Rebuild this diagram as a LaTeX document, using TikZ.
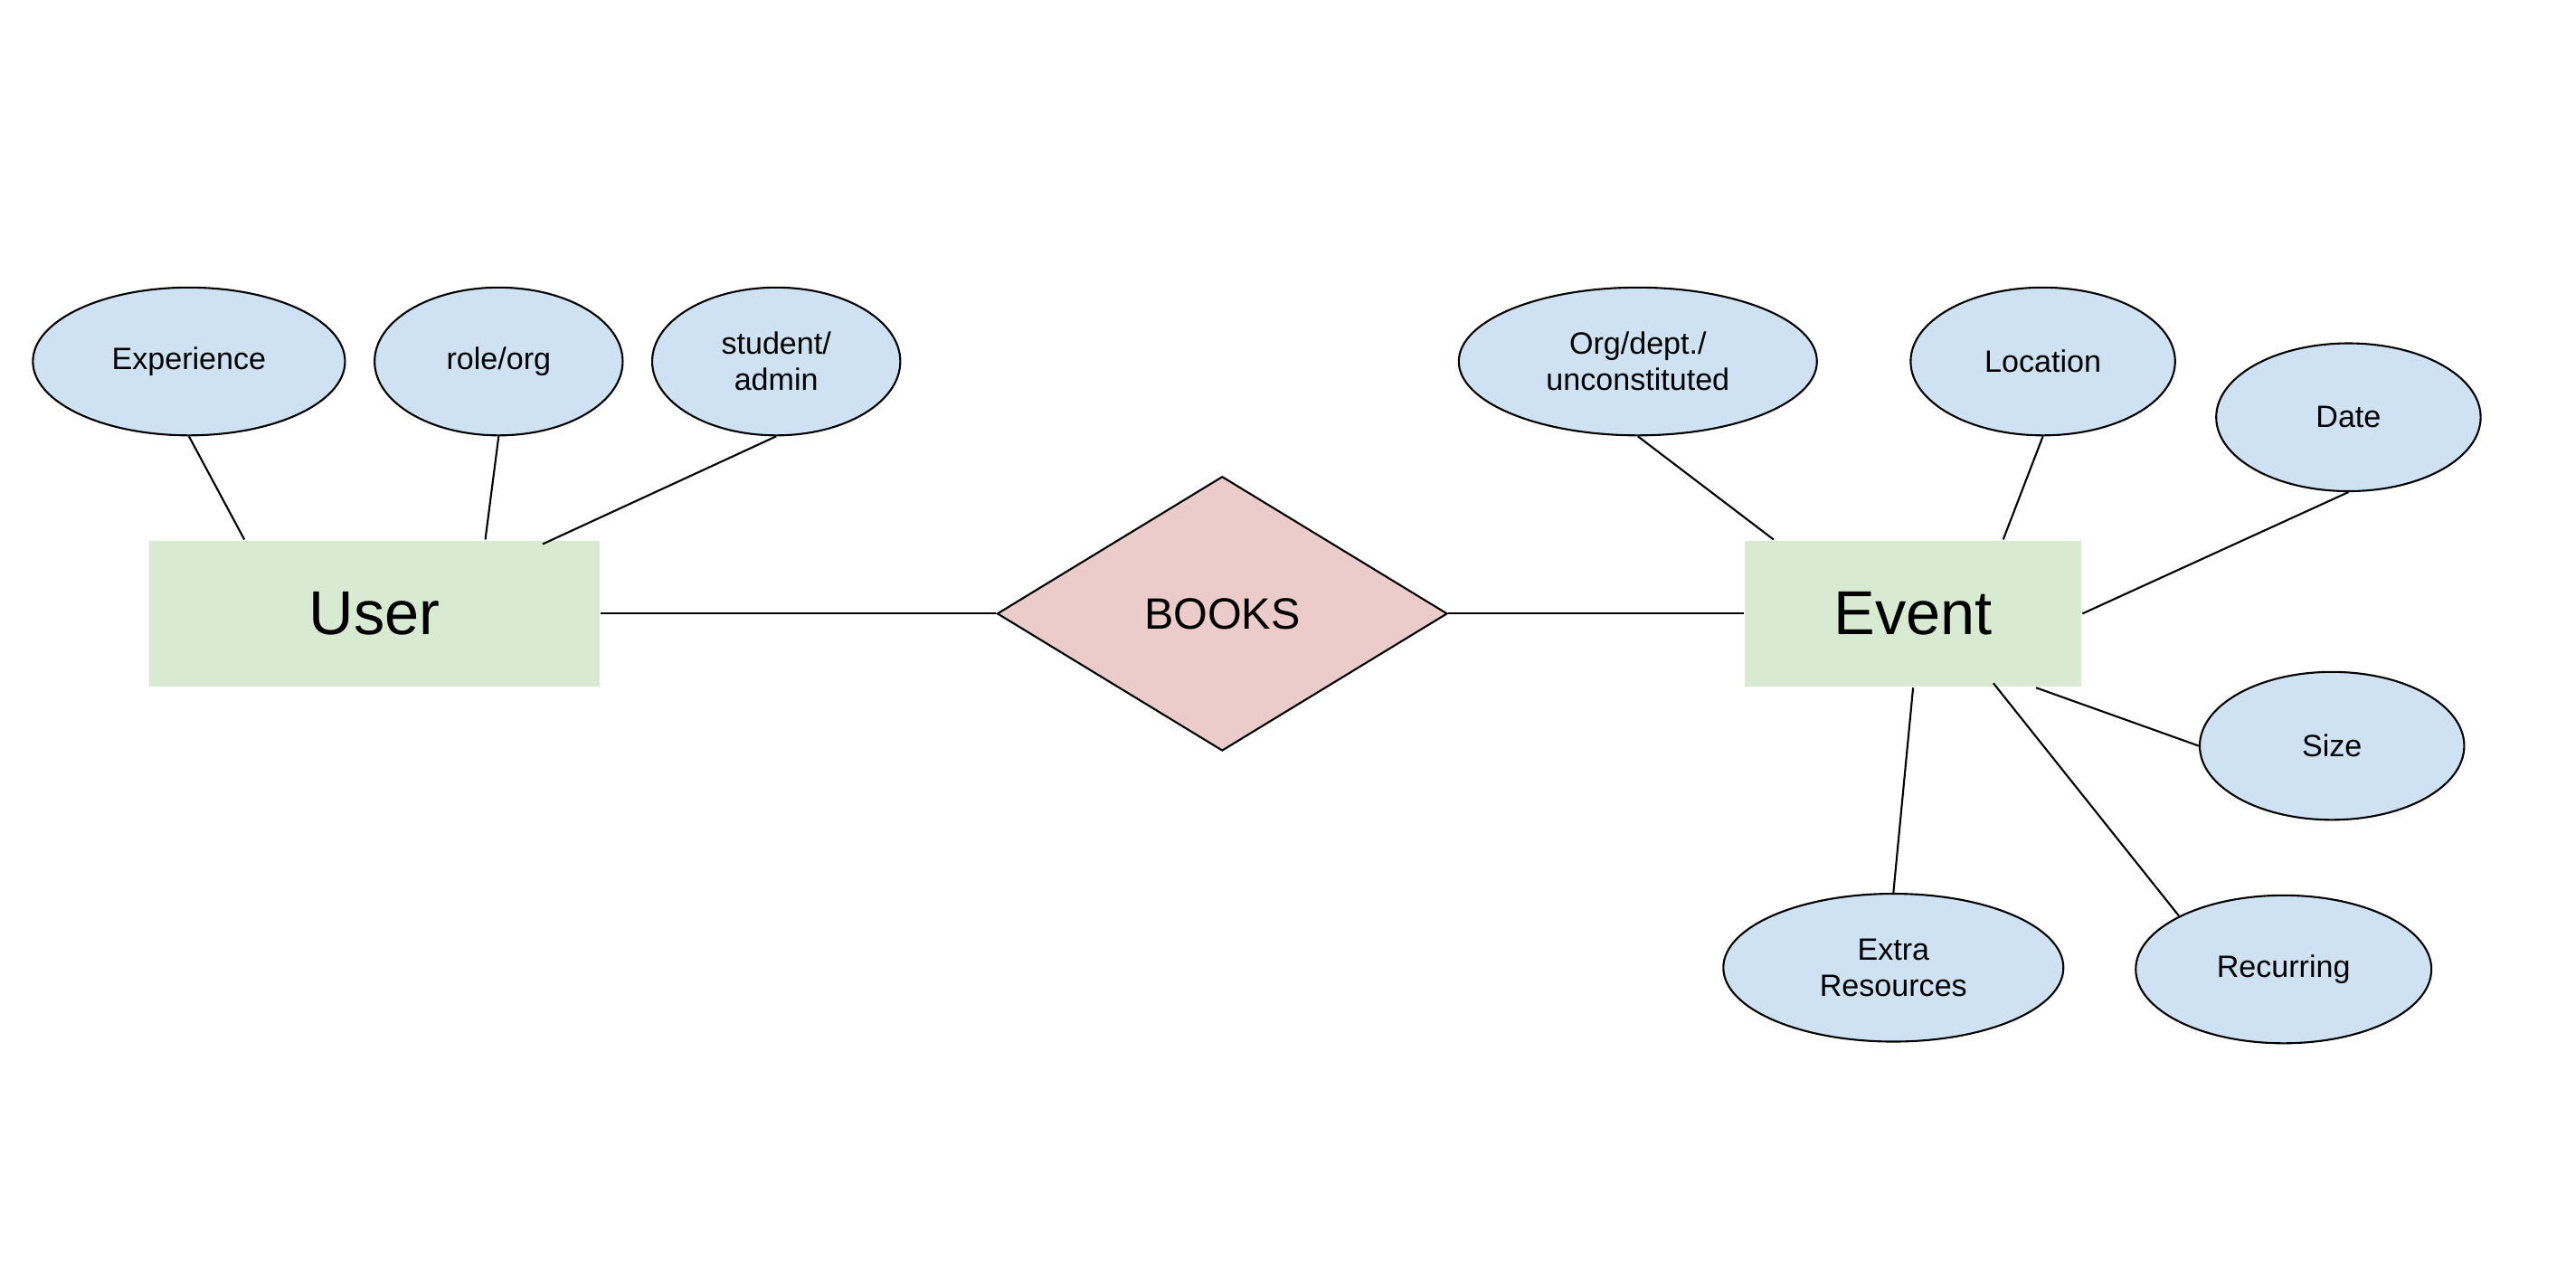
\documentclass[tikz,border=0pt]{standalone}
\usepackage{fontspec}
\setmainfont{Liberation Sans}
\usepackage{tikz}
\usetikzlibrary{calc}
\usetikzlibrary{shapes.geometric}
\definecolor{attrBlue}{HTML}{CFE2F3}
\definecolor{entGreen}{HTML}{D9EAD3}
\definecolor{relPink}{HTML}{EBCCCB}

\begin{document}
\begin{tikzpicture}[line width=0.6pt,
    entity/.style={rectangle,fill=entGreen,inner sep=0pt,minimum width=#1,minimum height=1.617cm,font=\fontsize{19.5}{22}\selectfont},
    attr/.style={ellipse,draw,fill=attrBlue,inner sep=0pt,minimum width=#1,minimum height=1.635cm,align=center,font=\fontsize{9.7}{11.4}\selectfont},
    rel/.style={diamond,draw,fill=relPink,inner sep=0pt,minimum width=4.977cm,minimum height=3.033cm,font=\fontsize{13.8}{16}\selectfont}]
      \useasboundingbox (0,0) rectangle (28.48,14.04);
      \node[entity=4.977cm] (user) at (4.141,7.256) {User} ;
      \node[rel] (books) at (13.513,7.256) {BOOKS} ;
      \node[entity=3.723cm] (event) at (21.151,7.256) {Event} ;
      \node[attr=3.451cm] (experience) at (2.089,10.044) {Experience} ;
      \node[attr=2.743cm] (roleOrg) at (5.513,10.044) {role/org} ;
      \node[attr=2.743cm] (studentAdmin) at (8.582,10.044) {student/\\admin} ;
      \node[attr=3.960cm] (orgDept) at (18.108,10.044) {Org/dept./\\unconstituted} ;
      \node[attr=2.924cm] (location) at (22.586,10.044) {Location} ;
      \node[attr=2.924cm] (date) at (25.964,9.427) {Date} ;
      \node[attr=2.924cm] (size) at (25.782,5.794) {Size} ;
      \node[attr=3.760cm] (extraRes) at (20.933,3.342) {Extra\\Resources} ;
      \node[attr=3.269cm] (recurring) at (25.247,3.324) {Recurring} ;
      \draw (user.east) -- (books.west) ;
      \draw (books.east) -- (event.west) ;
      \draw (experience.south) -- ($(user.north west)!0.212!(user.north east)$) ;
      \draw (roleOrg.south) -- ($(user.north west)!0.745!(user.north east)$) ;
      \draw (studentAdmin.south) -- ($(user.north west)!0.872!(user.north east)+(0,-0.05)$) ;
      \draw (orgDept.south) -- ($(event.north west)!0.088!(event.north east)$) ;
      \draw (location.south) -- ($(event.north west)!0.766!(event.north east)$) ;
      \draw (date.south) -- (event.east) ;
      \draw (size.west) -- ($(event.south west)!0.863!(event.south east)$) ;
      \draw (recurring.153) -- ($(event.south west)!0.737!(event.south east)+(0,0.05)$) ;
      \draw (extraRes.north) -- (event.south) ;
    \end{tikzpicture}
\end{document}
